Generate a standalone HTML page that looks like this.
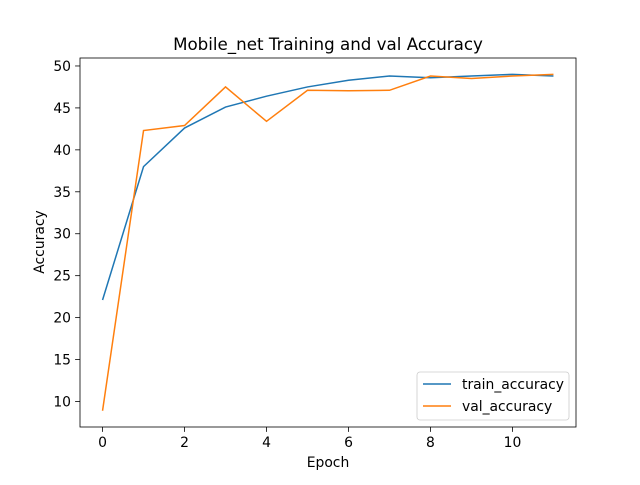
<!DOCTYPE html>
<html><head><meta charset="utf-8"><style>
body{margin:0;background:#fff}
text{font-family:"DejaVu Sans","Liberation Sans",sans-serif;fill:#000}
</style></head><body>
<svg id="c" width="640" height="480" xmlns="http://www.w3.org/2000/svg"></svg>
<script>
const epochs=[0,1,2,3,4,5,6,7,8,9,10,11];
const trainAcc=[22.1,38.0,42.6,45.1,46.4,47.5,48.3,48.8,48.6,48.8,49.0,48.8];
const valAcc=[8.9,42.3,42.9,47.5,43.4,47.1,47.05,47.1,48.8,48.5,48.8,49.0];
const xTicks=[0,2,4,6,8,10];
const yTicks=[10,15,20,25,30,35,40,45,50];
const L=80,R=576,T=58,B=427;
const xmin=-0.55,xmax=11.55,ymin=6.96,ymax=50.95;
const X=v=>L+(v-xmin)/(xmax-xmin)*(R-L);
const Y=v=>B-(v-ymin)/(ymax-ymin)*(B-T);
const svg=document.getElementById('c');
const NS='http://www.w3.org/2000/svg';
function mk(t,a,p){const e=document.createElementNS(NS,t);for(const k in a)e.setAttribute(k,a[k]);(p||svg).appendChild(e);return e;}
let e;
e=mk('text',{x:328,y:50,'text-anchor':'middle','font-size':'16.7'});e.textContent='Mobile_net Training and val Accuracy';


xTicks.forEach(v=>{
 e=mk('line',{x1:X(v),x2:X(v),y1:B,y2:B+4.9,stroke:'#000','stroke-width':0.8});
 
 
 e=mk('text',{x:X(v),y:B+20,'text-anchor':'middle','font-size':'13.9'});e.textContent=v;
 
 
});
yTicks.forEach(v=>{
 e=mk('line',{x1:L-4.9,x2:L,y1:Y(v),y2:Y(v),stroke:'#000','stroke-width':0.8});
 
 
 e=mk('text',{x:L-9,y:Y(v)+5,'text-anchor':'end','font-size':'13.9'});e.textContent=v;
 
 
});
e=mk('text',{x:328,y:467,'text-anchor':'middle','font-size':'13.9'});e.textContent='Epoch';


e=mk('text',{x:44,y:242,'text-anchor':'middle','font-size':'13.9',transform:'rotate(-90 44 242)'});e.textContent='Accuracy';


function line(d,c,n){
 e=mk('polyline',{points:d.map((v,i)=>X(epochs[i])+','+Y(v)).join(' '),fill:'none',stroke:c,'stroke-width':1.5});
 
 
}
line(trainAcc,'#1f77b4','train-accuracy-line');
line(valAcc,'#ff7f0e','val-accuracy-line');
e=mk('rect',{x:L,y:T,width:R-L,height:B-T,fill:'none',stroke:'#000','stroke-width':0.8});


const g=mk('g',{});


mk('rect',{x:417,y:372,width:152,height:48,rx:3,fill:'#fff',stroke:'#ccc','stroke-width':0.8},g);
mk('line',{x1:423,x2:451,y1:384,y2:384,stroke:'#1f77b4','stroke-width':1.5},g);
e=mk('text',{x:462,y:389,'font-size':'13.9'},g);e.textContent='train_accuracy';
mk('line',{x1:423,x2:451,y1:406,y2:406,stroke:'#ff7f0e','stroke-width':1.5},g);
e=mk('text',{x:462,y:411,'font-size':'13.9'},g);e.textContent='val_accuracy';
</script>
</body></html>
